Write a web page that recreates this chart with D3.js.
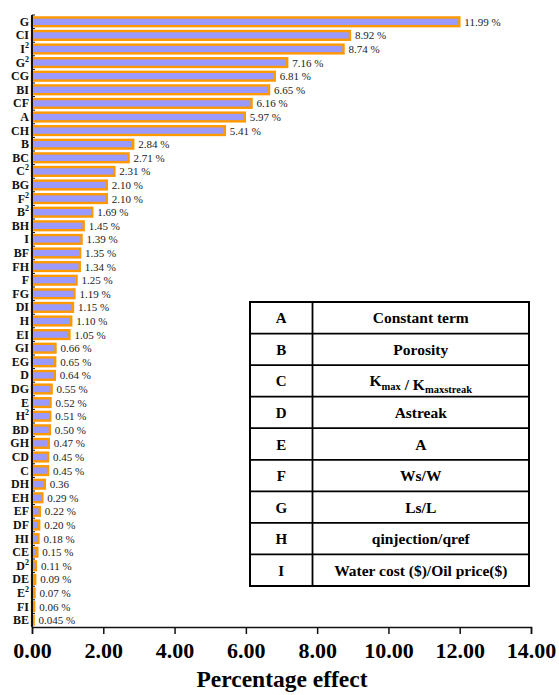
<!DOCTYPE html>
<html>
<head>
<meta charset="utf-8">
<script src="https://cdn.jsdelivr.net/npm/d3@7"></script>
<style>
  html, body { margin: 0; padding: 0; background: #fff; }
  svg { display: block; font-family: "Liberation Serif", "Times New Roman", serif; }
</style>
</head>
<body>
<svg id="chart" width="559" height="695"></svg>
<script>
// Model terms, ordered by their percentage effect
const categories = ["G", "CI", "I²", "G²", "CG", "BI", "CF", "A", "CH", "B", "BC", "C²", "BG", "F²", "B²",
  "BH", "I", "BF", "FH", "F", "FG", "DI", "H", "EI", "GI", "EG", "D", "DG", "E", "H²",
  "BD", "GH", "CD", "C", "DH", "EH", "EF", "DF", "HI", "CE", "D²", "DE", "E²", "FI", "BE"];
const effects = [11.99, 8.92, 8.74, 7.16, 6.81, 6.65, 6.16, 5.97, 5.41, 2.84, 2.71, 2.31, 2.10, 2.10, 1.69,
  1.45, 1.39, 1.35, 1.34, 1.25, 1.19, 1.15, 1.10, 1.05, 0.66, 0.65, 0.64, 0.55, 0.52, 0.51,
  0.50, 0.47, 0.45, 0.45, 0.36, 0.29, 0.22, 0.20, 0.18, 0.15, 0.11, 0.09, 0.07, 0.06, 0.045];
const effectLabels = ["11.99 %", "8.92 %", "8.74 %", "7.16 %", "6.81 %", "6.65 %", "6.16 %", "5.97 %", "5.41 %",
  "2.84 %", "2.71 %", "2.31 %", "2.10 %", "2.10 %", "1.69 %", "1.45 %", "1.39 %", "1.35 %", "1.34 %",
  "1.25 %", "1.19 %", "1.15 %", "1.10 %", "1.05 %", "0.66 %", "0.65 %", "0.64 %", "0.55 %", "0.52 %",
  "0.51 %", "0.50 %", "0.47 %", "0.45 %", "0.45 %", "0.36", "0.29 %", "0.22 %", "0.20 %", "0.18 %",
  "0.15 %", "0.11 %", "0.09 %", "0.07 %", "0.06 %", "0.045 %"];
const xTicks = [0, 2, 4, 6, 8, 10, 12, 14];
const xTickLabels = ["0.00", "2.00", "4.00", "6.00", "8.00", "10.00", "12.00", "14.00"];
const xTitle = "Percentage effect";

// Factor legend
const factorCodes = ["A", "B", "C", "D", "E", "F", "G", "H", "I"];
const factorNames = ["Constant term", "Porosity", "K_max / K_maxstreak", "Astreak", "A", "Ws/W", "Ls/L",
  "qinjection/qref", "Water cost ($)/Oil price($)"];

const svg = d3.select("#chart");
const plotLeft = 32, plotRight = 531, plotTop = 15, plotBottom = 627;

const x = d3.scaleLinear().domain([0, 14]).range([plotLeft, plotRight]);
const y = d3.scaleBand().domain(categories).range([plotTop, plotBottom]).paddingInner(0.36).paddingOuter(0.18);

// Bars
svg.append("g").selectAll("rect")
  .data(categories)
  .join("rect")
  .attr("x", x(0))
  .attr("y", (d) => y(d))
  .attr("width", (d, i) => x(effects[i]) - x(0))
  .attr("height", y.bandwidth())
  .attr("fill", "#9999ff")
  .attr("stroke", "#ff9900")
  .attr("stroke-width", 2.4);

// Value labels
svg.append("g").selectAll("text")
  .data(categories)
  .join("text")
  .attr("x", (d, i) => x(effects[i]) + 5)
  .attr("y", (d) => y(d) + y.bandwidth() / 2 + 4)
  .attr("font-size", 11)
  .attr("fill", "#222")
  .text((d, i) => effectLabels[i]);

// Category axis
const yAxis = svg.append("g");
yAxis.append("line")
  .attr("x1", plotLeft).attr("x2", plotLeft)
  .attr("y1", plotTop).attr("y2", plotBottom)
  .attr("stroke", "#111").attr("stroke-width", 2);
const step = y.step();
yAxis.selectAll("line.tick")
  .data(categories)
  .join("line")
  .attr("class", "tick")
  .attr("x1", plotLeft).attr("x2", plotLeft + 3)
  .attr("y1", (d) => y(d) - step * 0.18)
  .attr("y2", (d) => y(d) - step * 0.18)
  .attr("stroke", "#111").attr("stroke-width", 1);

const catLabels = yAxis.selectAll("text")
  .data(categories)
  .join("text")
  .attr("x", plotLeft - 3)
  .attr("y", (d) => y(d) + y.bandwidth() / 2 + 4)
  .attr("text-anchor", "end")
  .attr("font-size", 12)
  .attr("font-weight", "bold")
  .attr("fill", "#111");
catLabels.each(function (d) {
  const t = d3.select(this);
  const parts = d.split("²");
  t.append("tspan").text(parts[0]);
  if (parts.length > 1) {
    t.append("tspan").attr("font-size", 8).attr("dy", -5).text("2");
  }
});

// Value axis
const xAxis = svg.append("g").attr("transform", `translate(0,${plotBottom})`)
  .call(d3.axisBottom(x).tickValues(xTicks).tickSize(7).tickPadding(8)
    .tickFormat((d, i) => xTickLabels[i]));
xAxis.select(".domain").attr("stroke", "#111").attr("stroke-width", 1.5);
xAxis.selectAll(".tick line").attr("stroke", "#111").attr("stroke-width", 1.5);
xAxis.selectAll(".tick text")
  .attr("font-family", "Liberation Serif, serif")
  .attr("font-size", 22)
  .attr("font-weight", "bold")
  .attr("fill", "#000");

svg.append("text")
  .attr("x", 282)
  .attr("y", 687)
  .attr("text-anchor", "middle")
  .attr("font-size", 23.5)
  .attr("font-weight", "bold")
  .attr("fill", "#000")
  .text(xTitle);

// Factor table
const tX = 250, tY = 302, tW = 279, tH = 284, col1 = 62.5;
const rowH = tH / factorCodes.length;
const table = svg.append("g");
table.selectAll("line.row")
  .data(d3.range(1, factorCodes.length))
  .join("line")
  .attr("class", "row")
  .attr("x1", tX).attr("x2", tX + tW)
  .attr("y1", (i) => tY + i * rowH).attr("y2", (i) => tY + i * rowH)
  .attr("stroke", "#000").attr("stroke-width", 1.8);
table.append("line")
  .attr("x1", tX + col1).attr("x2", tX + col1)
  .attr("y1", tY).attr("y2", tY + tH)
  .attr("stroke", "#000").attr("stroke-width", 1.8);
table.append("rect")
  .attr("x", tX).attr("y", tY).attr("width", tW).attr("height", tH)
  .attr("fill", "none").attr("stroke", "#000").attr("stroke-width", 2);

table.selectAll("text.code")
  .data(factorCodes)
  .join("text")
  .attr("class", "code")
  .attr("x", tX + col1 / 2)
  .attr("y", (d, i) => tY + i * rowH + rowH / 2 + 5.5)
  .attr("text-anchor", "middle")
  .attr("font-size", 15)
  .attr("font-weight", "bold")
  .text((d) => d);

table.selectAll("text.name")
  .data(factorNames)
  .join("text")
  .attr("class", "name")
  .attr("x", tX + col1 + (tW - col1) / 2)
  .attr("y", (d, i) => tY + i * rowH + rowH / 2 + 5.5)
  .attr("text-anchor", "middle")
  .attr("font-size", 15.5)
  .attr("font-weight", "bold")
  .each(function (d) {
    const t = d3.select(this);
    // "_" marks a subscript run, ended by a space or the end of the text
    const re = /([^_]*)_(\S+)/g;
    let m, last = 0;
    if (!d.includes("_")) { t.text(d); return; }
    while ((m = re.exec(d)) !== null) {
      t.append("tspan").text(m[1]);
      t.append("tspan").attr("font-size", 10.5).attr("dy", 3.5).text(m[2]);
      t.append("tspan").attr("dy", -3.5).text("");
      last = re.lastIndex;
    }
    if (last < d.length) t.append("tspan").text(d.slice(last));
  });
</script>
</body>
</html>
